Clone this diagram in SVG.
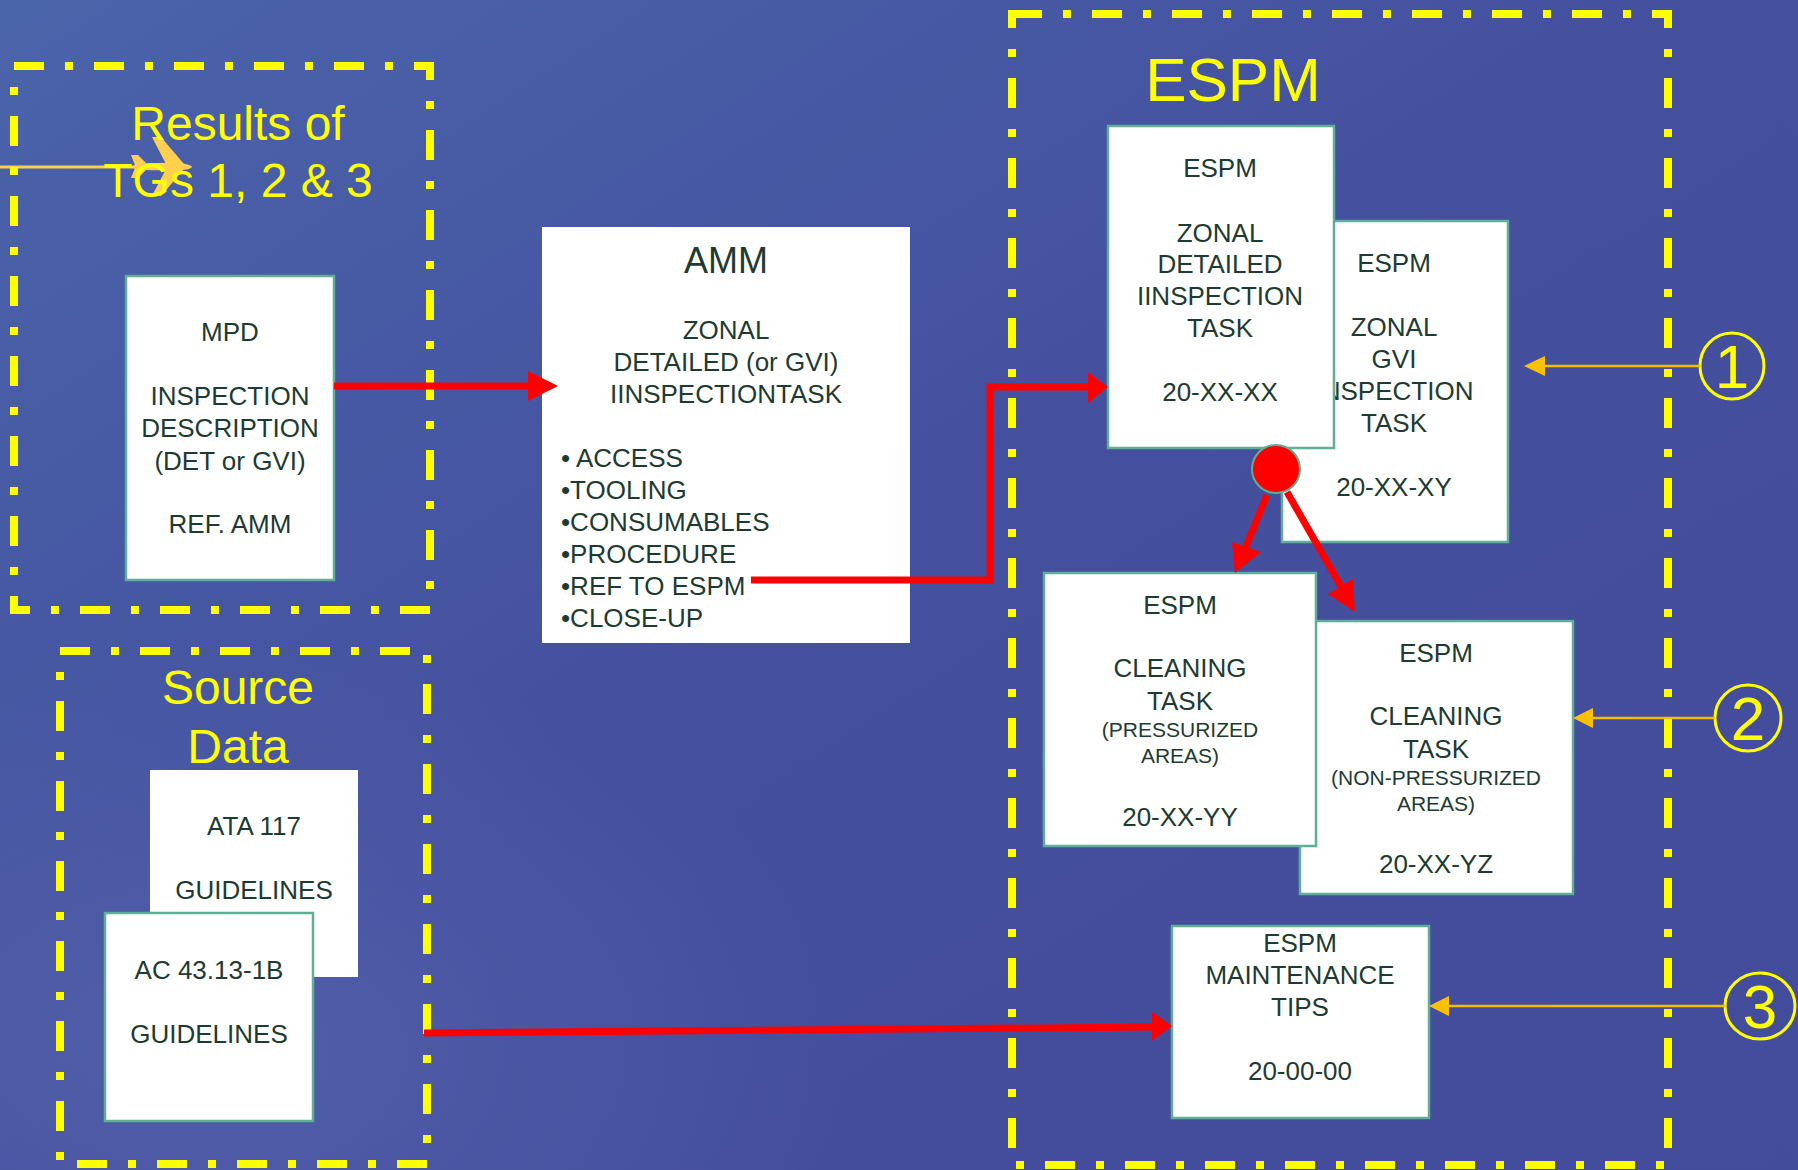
<svg xmlns="http://www.w3.org/2000/svg" width="1798" height="1170" viewBox="0 0 1798 1170">
<defs>
<linearGradient id="bg" x1="0" y1="0" x2="1" y2="1">
<stop offset="0" stop-color="#4a64aa"/>
<stop offset="0.5" stop-color="#444f9e"/>
<stop offset="1" stop-color="#434c9b"/>
</linearGradient>
<radialGradient id="glow" cx="0.12" cy="0.9" r="0.35">
<stop offset="0" stop-color="#5a68b0" stop-opacity="0.6"/>
<stop offset="1" stop-color="#5a68b0" stop-opacity="0"/>
</radialGradient>
<style>
.frame{fill:none;stroke:#ffff00;stroke-width:8;stroke-dasharray:30 21 8 21}
.box{fill:#ffffff;stroke:#5fae96;stroke-width:2.5}
.plain{fill:#ffffff}
.t{font-family:"Liberation Sans",Arial,sans-serif;font-size:26px;fill:#1d3b31;text-anchor:middle}
.s{font-size:21px}
.l{text-anchor:start}
.title{font-family:"Liberation Sans",Arial,sans-serif;font-size:48px;fill:#ffff00;text-anchor:middle}
.red{stroke:#ff0000;stroke-width:7;fill:none}
.redh{fill:#ff0000}
.yl{stroke:#f2c000;stroke-width:2.5;fill:none}
.yh{fill:#ffc000}
.num{fill:none;stroke:#ffff00;stroke-width:3}
.numt{font-family:"Liberation Sans",Arial,sans-serif;font-size:62px;fill:#ffff00;text-anchor:middle}
</style>
</defs>
<rect width="1798" height="1170" fill="url(#bg)"/>
<rect width="1798" height="1170" fill="url(#glow)"/>

<g id="logo" fill="#ffd050">
<line x1="0" y1="167" x2="140" y2="167" stroke="#ffd050" stroke-width="3"/>
<path d="M134 165 Q150 162 180 163 Q192 165 192 167 Q190 170 180 170 Q150 171 134 169 Z"/>
<polygon points="166,164 152,137 161,137 184,164"/>
<polygon points="166,169 152,196 161,196 184,169"/>
<polygon points="135,165 131,155 138,155 148,165"/>
<polygon points="135,168 131,178 138,178 148,168"/>
</g>

<g id="results-frame">
<rect class="frame" x="14" y="66" width="416" height="544"/>
<text class="title" x="238" y="140">Results of</text>
<text class="title" x="238" y="197">TGs 1, 2 &amp; 3</text>
</g>

<g id="source-frame">
<rect class="frame" x="60" y="651" width="367" height="513"/>
<text class="title" x="238" y="704">Source</text>
<text class="title" x="238" y="763">Data</text>
</g>

<g id="espm-frame">
<rect class="frame" x="1012" y="14" width="656" height="1151"/>
<text class="title" x="1233" y="101" style="font-size:62px">ESPM</text>
</g>

<g id="mpd">
<rect class="box" x="126" y="276" width="208" height="304"/>
<text class="t" x="230" y="341">MPD</text>
<text class="t" x="230" y="405">INSPECTION</text>
<text class="t" x="230" y="437">DESCRIPTION</text>
<text class="t" x="230" y="470">(DET or GVI)</text>
<text class="t" x="230" y="533">REF. AMM</text>
</g>

<g id="amm">
<rect class="plain" x="542" y="227" width="368" height="416"/>
<text class="t" x="726" y="273" style="font-size:36px">AMM</text>
<text class="t" x="726" y="339">ZONAL</text>
<text class="t" x="726" y="371">DETAILED (or GVI)</text>
<text class="t" x="726" y="403">IINSPECTIONTASK</text>
<text class="t l" x="561" y="467">• ACCESS</text>
<text class="t l" x="561" y="499">•TOOLING</text>
<text class="t l" x="561" y="531">•CONSUMABLES</text>
<text class="t l" x="561" y="563">•PROCEDURE</text>
<text class="t l" x="561" y="595">•REF TO ESPM</text>
<text class="t l" x="561" y="627">•CLOSE-UP</text>
</g>

<g id="ata117">
<rect class="plain" x="150" y="770" width="208" height="207"/>
<text class="t" x="254" y="835">ATA 117</text>
<text class="t" x="254" y="899">GUIDELINES</text>
</g>

<g id="ac43">
<rect class="box" x="105" y="913" width="208" height="208"/>
<text class="t" x="209" y="979">AC 43.13-1B</text>
<text class="t" x="209" y="1043">GUIDELINES</text>
</g>

<g id="espm-gvi">
<rect class="box" x="1282" y="221" width="226" height="321"/>
<text class="t" x="1394" y="272">ESPM</text>
<text class="t" x="1394" y="336">ZONAL</text>
<text class="t" x="1394" y="368">GVI</text>
<text class="t" x="1394" y="400">INSPECTION</text>
<text class="t" x="1394" y="432">TASK</text>
<text class="t" x="1394" y="496">20-XX-XY</text>
</g>

<g id="espm-detailed">
<rect class="box" x="1108" y="126" width="226" height="322"/>
<text class="t" x="1220" y="177">ESPM</text>
<text class="t" x="1220" y="242">ZONAL</text>
<text class="t" x="1220" y="273">DETAILED</text>
<text class="t" x="1220" y="305">IINSPECTION</text>
<text class="t" x="1220" y="337">TASK</text>
<text class="t" x="1220" y="401">20-XX-XX</text>
</g>

<g id="espm-cleaning-nonpress">
<rect class="box" x="1300" y="621" width="273" height="273"/>
<text class="t" x="1436" y="662">ESPM</text>
<text class="t" x="1436" y="725">CLEANING</text>
<text class="t" x="1436" y="758">TASK</text>
<text class="t s" x="1436" y="785">(NON-PRESSURIZED</text>
<text class="t s" x="1436" y="811">AREAS)</text>
<text class="t" x="1436" y="873">20-XX-YZ</text>
</g>

<g id="espm-cleaning-press">
<rect class="box" x="1044" y="573" width="272" height="273"/>
<text class="t" x="1180" y="614">ESPM</text>
<text class="t" x="1180" y="677">CLEANING</text>
<text class="t" x="1180" y="710">TASK</text>
<text class="t s" x="1180" y="737">(PRESSURIZED</text>
<text class="t s" x="1180" y="763">AREAS)</text>
<text class="t" x="1180" y="826">20-XX-YY</text>
</g>

<g id="espm-tips">
<rect class="box" x="1172" y="926" width="257" height="192"/>
<text class="t" x="1300" y="952">ESPM</text>
<text class="t" x="1300" y="984">MAINTENANCE</text>
<text class="t" x="1300" y="1016">TIPS</text>
<text class="t" x="1300" y="1080">20-00-00</text>
</g>

<g id="callout-1">
<ellipse class="num" cx="1732" cy="366" rx="32" ry="33"/>
<text class="numt" x="1732" y="388">1</text>
</g>
<g id="callout-2">
<ellipse class="num" cx="1748" cy="718" rx="33" ry="33"/>
<text class="numt" x="1748" y="740">2</text>
</g>
<g id="callout-3">
<ellipse class="num" cx="1760" cy="1006" rx="35" ry="33"/>
<text class="numt" x="1760" y="1028">3</text>
</g>

<g id="connectors">
<line class="red" x1="334" y1="386" x2="532" y2="386"/>
<polygon class="redh" points="528,371 558,386 528,401"/>
<path class="red" d="M751 580 H990 V387 H1090"/>
<polygon class="redh" points="1088,372 1108,387 1088,403"/>
<line class="red" x1="424" y1="1033" x2="1154" y2="1027"/>
<polygon class="redh" points="1152,1012 1172,1026 1152,1041"/>
<line class="red" x1="1267" y1="495" x2="1245" y2="549"/>
<polygon class="redh" points="1232,542 1235,573 1261,552"/>
<line class="red" x1="1287" y1="492" x2="1342" y2="588"/>
<polygon class="redh" points="1328,594 1355,612 1353,579"/>
<circle cx="1276" cy="469" r="24" fill="#ff0000" stroke="#5fae96" stroke-width="2"/>
<line class="yl" x1="1700" y1="366" x2="1543" y2="366"/>
<polygon class="yh" points="1545,356 1524,366 1545,376"/>
<line class="yl" x1="1715" y1="718" x2="1592" y2="718"/>
<polygon class="yh" points="1593,708 1573,718 1593,728"/>
<line class="yl" x1="1725" y1="1006" x2="1448" y2="1006"/>
<polygon class="yh" points="1449,996 1429,1006 1449,1016"/>
</g>
</svg>
